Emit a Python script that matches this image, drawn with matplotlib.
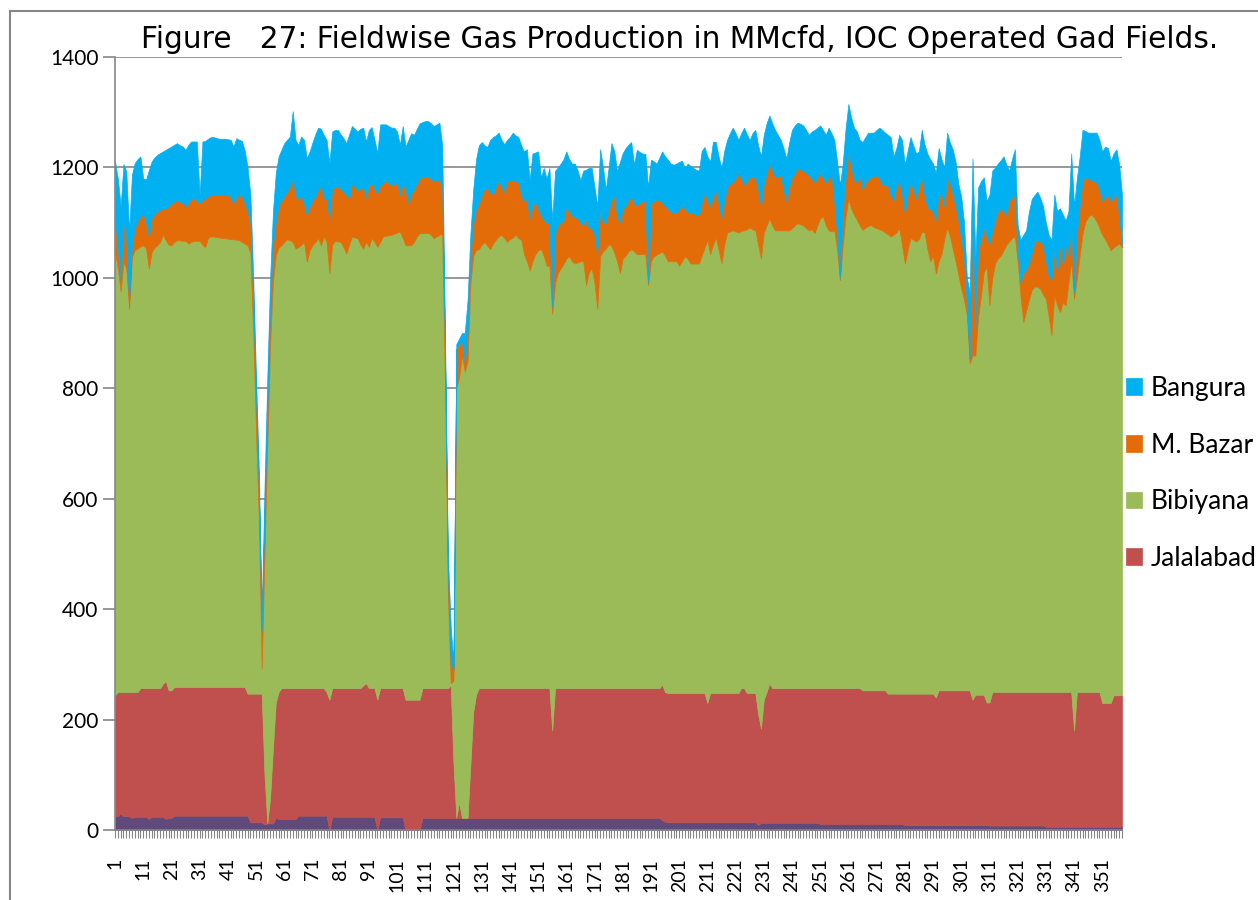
import matplotlib
matplotlib.use("Agg")
import matplotlib.pyplot as plt
import numpy as np
from matplotlib.patches import Rectangle

plt.rcParams['font.family'] = ['Lato', 'DejaVu Sans']

# daily production, MMcfd, days 1..358
days = np.arange(1, 359)

other = [
    25, 25, 30, 25, 25, 25, 22, 24, 24, 24,
    24, 24, 20, 24, 24, 24, 24, 24, 20, 22,
    22, 26, 26, 26, 26, 26, 26, 26, 26, 26,
    26, 26, 26, 26, 26, 26, 26, 26, 26, 26,
    26, 26, 26, 26, 26, 26, 26, 26, 14, 14,
    14, 14, 14, 10, 12, 12, 12, 22, 20, 20,
    20, 20, 20, 20, 20, 26, 26, 26, 26, 26,
    26, 26, 26, 26, 26, 26, 0, 24, 24, 24,
    24, 24, 24, 24, 24, 24, 24, 24, 24, 24,
    24, 24, 23, 0, 23, 23, 23, 23, 23, 23,
    23, 23, 23, 0, 0, 0, 0, 0, 0, 22,
    22, 22, 22, 22, 22, 22, 22, 22, 22, 22,
    22, 22, 22, 22, 22, 22, 22, 22, 22, 22,
    22, 22, 22, 22, 22, 22, 22, 22, 22, 22,
    22, 22, 22, 22, 22, 22, 22, 22, 22, 22,
    22, 22, 22, 22, 22, 22, 22, 22, 22, 22,
    22, 22, 22, 22, 22, 22, 22, 22, 22, 22,
    22, 22, 22, 22, 22, 22, 22, 22, 22, 22,
    22, 22, 22, 22, 22, 22, 22, 22, 22, 22,
    22, 22, 22, 22, 18, 15, 14, 14, 14, 14,
    14, 14, 14, 14, 14, 14, 14, 14, 14, 14,
    14, 14, 14, 14, 14, 14, 14, 14, 14, 14,
    14, 14, 14, 14, 14, 14, 14, 14, 9, 13,
    13, 13, 13, 13, 13, 13, 13, 13, 13, 13,
    13, 13, 13, 13, 13, 13, 13, 13, 13, 13,
    11, 11, 11, 11, 11, 11, 11, 11, 11, 11,
    11, 11, 11, 11, 11, 11, 11, 11, 11, 11,
    11, 11, 11, 11, 11, 11, 11, 11, 11, 11,
    9, 9, 9, 9, 9, 9, 9, 9, 9, 9,
    9, 9, 9, 9, 9, 9, 9, 9, 9, 9,
    9, 9, 9, 9, 9, 9, 9, 9, 9, 9,
    8, 8, 8, 8, 8, 8, 8, 8, 8, 8,
    8, 8, 8, 8, 8, 8, 8, 8, 8, 8,
    6, 6, 6, 6, 6, 6, 6, 6, 6, 6,
    6, 6, 6, 6, 6, 6, 6, 6, 6, 6,
    6, 6, 6, 6, 6, 6, 6, 6,
]

jalalabad = [
    219, 225, 220, 225, 225, 225, 228, 226, 226, 233,
    233, 233, 237, 233, 233, 233, 233, 241, 250, 231,
    231, 233, 233, 233, 233, 233, 233, 233, 233, 233,
    233, 233, 233, 233, 233, 233, 233, 233, 233, 233,
    233, 233, 233, 233, 233, 233, 233, 221, 233, 233,
    233, 233, 233, 90, 0, 48, 138, 209, 230, 237,
    237, 237, 237, 237, 237, 231, 231, 231, 231, 231,
    231, 231, 231, 231, 231, 224, 236, 233, 233, 233,
    233, 233, 233, 233, 233, 233, 233, 233, 238, 242,
    233, 233, 234, 236, 234, 234, 234, 234, 234, 234,
    234, 234, 234, 236, 236, 236, 236, 236, 236, 235,
    235, 235, 235, 235, 235, 235, 235, 235, 235, 240,
    98, 0, 28, 0, 0, 0, 98, 192, 223, 235,
    235, 235, 235, 235, 235, 235, 235, 235, 235, 235,
    235, 235, 235, 235, 235, 235, 235, 235, 235, 235,
    235, 235, 235, 235, 235, 158, 235, 235, 235, 235,
    235, 235, 235, 235, 235, 235, 235, 235, 235, 235,
    235, 235, 235, 235, 235, 235, 235, 235, 235, 235,
    235, 235, 235, 235, 235, 235, 235, 235, 235, 235,
    235, 235, 235, 235, 245, 235, 234, 234, 234, 234,
    234, 234, 234, 234, 234, 234, 234, 234, 234, 234,
    216, 234, 234, 234, 234, 234, 234, 234, 234, 234,
    234, 234, 243, 243, 234, 234, 234, 234, 201, 171,
    223, 237, 253, 244, 244, 244, 244, 244, 244, 244,
    244, 244, 244, 244, 244, 244, 244, 244, 244, 244,
    246, 246, 246, 246, 246, 246, 246, 246, 246, 246,
    246, 246, 246, 246, 246, 242, 242, 242, 242, 242,
    242, 242, 242, 242, 236, 236, 236, 236, 236, 236,
    238, 238, 238, 238, 238, 238, 238, 238, 238, 238,
    238, 231, 244, 244, 244, 244, 244, 244, 244, 244,
    244, 244, 244, 244, 227, 236, 236, 236, 236, 222,
    223, 242, 242, 242, 242, 242, 242, 242, 242, 242,
    242, 242, 242, 242, 242, 242, 242, 242, 242, 242,
    244, 244, 244, 244, 244, 244, 244, 244, 244, 244,
    174, 244, 244, 244, 244, 244, 244, 244, 244, 244,
    224, 224, 224, 224, 238, 238, 238, 238,
]

bibiyana = [
    803, 767, 725, 779, 767, 694, 788, 800, 803, 800,
    802, 796, 760, 790, 798, 802, 808, 813, 798, 807,
    806, 806, 809, 809, 808, 808, 803, 806, 808, 808,
    808, 801, 797, 814, 816, 816, 815, 814, 813, 813,
    812, 811, 811, 810, 809, 806, 803, 812, 798, 653,
    473, 313, 45, 400, 688, 820, 843, 810, 805, 802,
    808, 813, 811, 808, 796, 799, 803, 808, 772, 793,
    802, 808, 815, 802, 818, 815, 772, 803, 810, 809,
    808, 798, 787, 803, 818, 816, 815, 803, 791, 799,
    799, 815, 808, 820, 808, 818, 819, 820, 821, 823,
    825, 827, 815, 823, 823, 823, 829, 839, 845, 824,
    824, 824, 821, 815, 818, 821, 823, 543, 173, 4,
    150, 778, 770, 838, 808, 828, 870, 826, 805, 795,
    803, 808, 801, 795, 805, 812, 818, 821, 815, 808,
    813, 816, 821, 815, 812, 786, 773, 756, 773, 786,
    793, 795, 783, 765, 765, 755, 733, 752, 760, 768,
    778, 782, 773, 769, 771, 773, 773, 730, 753, 760,
    733, 687, 783, 791, 796, 804, 801, 788, 773, 752,
    778, 783, 791, 795, 791, 786, 786, 786, 786, 730,
    773, 782, 785, 788, 785, 790, 782, 782, 782, 782,
    774, 782, 791, 787, 778, 778, 778, 778, 792, 807,
    839, 795, 812, 825, 802, 778, 812, 834, 836, 838,
    836, 834, 828, 829, 840, 843, 840, 838, 850, 851,
    846, 845, 842, 838, 829, 829, 829, 829, 829, 829,
    833, 838, 842, 840, 838, 833, 829, 831, 824, 838,
    851, 854, 838, 829, 827, 829, 793, 739, 803, 853,
    887, 868, 857, 848, 838, 834, 838, 841, 843, 839,
    837, 835, 833, 829, 832, 828, 831, 835, 843, 813,
    779, 803, 825, 822, 819, 823, 837, 835, 805, 783,
    793, 768, 777, 790, 817, 838, 822, 799, 777, 752,
    727, 707, 679, 592, 624, 614, 685, 723, 765, 789,
    719, 750, 776, 785, 790, 800, 810, 816, 822, 825,
    780, 718, 670, 690, 710, 728, 734, 734, 730, 720,
    712, 680, 646, 718, 700, 688, 706, 700, 740, 779,
    782, 750, 791, 830, 852, 860, 865, 860, 852, 840,
    848, 840, 830, 820, 811, 815, 818, 811,
]

m_bazar = [
    61, 36, 20, 71, 55, 12, 21, 40, 49, 53,
    58, 47, 58, 61, 60, 61, 58, 47, 58, 70,
    76, 73, 73, 70, 68, 62, 74, 77, 77, 73,
    68, 80, 88, 75, 75, 77, 77, 77, 78, 78,
    79, 75, 65, 76, 84, 82, 73, 61, 55, 60,
    60, 55, 68, 70, 60, 70, 67, 61, 75, 81,
    83, 85, 97, 113, 97, 85, 90, 70, 85, 79,
    81, 82, 86, 109, 69, 79, 100, 102, 97, 99,
    95, 101, 106, 84, 97, 92, 87, 102, 111, 80,
    112, 100, 95, 97, 103, 97, 100, 95, 90, 90,
    90, 66, 100, 101, 76, 94, 95, 95, 100, 101,
    102, 102, 102, 103, 102, 101, 80, 60, 40, 34,
    20, 70, 60, 25, 15, 50, 50, 60, 75, 83,
    90, 95, 106, 103, 89, 96, 102, 87, 83, 112,
    107, 104, 97, 101, 81, 96, 113, 95, 100, 96,
    75, 61, 65, 77, 77, 13, 90, 86, 83, 79,
    95, 81, 83, 84, 80, 70, 65, 119, 80, 73,
    88, 99, 85, 52, 47, 60, 82, 106, 80, 91,
    90, 90, 92, 95, 87, 87, 92, 96, 96, 5,
    104, 99, 101, 95, 87, 90, 95, 90, 88, 87,
    103, 100, 86, 85, 91, 91, 89, 87, 95, 101,
    71, 87, 85, 87, 85, 82, 80, 82, 86, 87,
    96, 108, 95, 82, 87, 91, 94, 96, 100, 95,
    88, 95, 99, 100, 96, 98, 100, 74, 53, 79,
    92, 95, 100, 99, 99, 100, 100, 92, 92, 87,
    82, 69, 78, 94, 102, 53, 30, 4, 61, 70,
    85, 75, 63, 68, 90, 73, 82, 84, 86, 92,
    96, 92, 84, 86, 89, 75, 61, 83, 87, 90,
    91, 100, 101, 91, 77, 95, 98, 68, 76, 94,
    81, 96, 120, 107, 60, 91, 95, 99, 100, 99,
    90, 75, 18, 8, 253, 46, 122, 102, 81, 55,
    111, 85, 78, 85, 86, 70, 53, 73, 73, 76,
    20, 23, 89, 75, 66, 67, 81, 85, 85, 91,
    68, 75, 100, 84, 59, 123, 66, 110, 50, 67,
    12, 78, 89, 95, 80, 70, 62, 65, 71, 70,
    61, 75, 91, 89, 90, 92, 51, 5,
]

bangura = [
    103, 127, 135, 106, 121, 128, 128, 118, 113, 110,
    63, 78, 120, 103, 103, 103, 103, 104, 106, 105,
    103, 103, 103, 102, 103, 103, 105, 105, 103, 107,
    15, 107, 104, 104, 105, 103, 102, 102, 102, 102,
    101, 105, 103, 108, 98, 101, 95, 80, 50, 40,
    40, 35, 35, 50, 60, 50, 60, 88, 90, 92,
    96, 95, 91, 124, 100, 100, 106, 115, 103, 100,
    105, 113, 114, 102, 115, 106, 100, 103, 104, 103,
    100, 97, 94, 116, 103, 105, 106, 108, 108, 102,
    100, 101, 90, 73, 110, 106, 102, 103, 104, 102,
    93, 91, 103, 78, 115, 109, 99, 100, 99, 100,
    101, 101, 100, 100, 101, 102, 80, 40, 30, 70,
    10, 10, 10, 15, 55, 60, 40, 60, 90, 105,
    96, 80, 73, 95, 104, 93, 86, 85, 87, 73,
    78, 86, 83, 82, 90, 90, 90, 69, 95, 88,
    104, 69, 94, 81, 100, 156, 114, 105, 107, 111,
    99, 95, 94, 97, 87, 77, 99, 90, 109, 109,
    86, 87, 108, 100, 60, 79, 104, 79, 83, 110,
    101, 105, 101, 99, 70, 102, 93, 86, 86, 172,
    80, 73, 64, 78, 94, 90, 89, 87, 87, 90,
    85, 82, 74, 87, 86, 82, 81, 81, 95, 81,
    80, 81, 102, 86, 85, 91, 90, 86, 92, 99,
    82, 60, 82, 104, 85, 68, 80, 86, 80, 90,
    89, 90, 87, 85, 86, 75, 64, 75, 77, 80,
    86, 86, 82, 83, 82, 78, 73, 85, 95, 90,
    86, 88, 86, 92, 76, 111, 130, 168, 86, 90,
    86, 90, 95, 92, 65, 86, 82, 85, 81, 79,
    82, 92, 98, 95, 91, 105, 81, 70, 82, 100,
    88, 80, 82, 80, 82, 64, 86, 92, 97, 91,
    86, 86, 85, 65, 70, 81, 75, 82, 80, 66,
    77, 65, 50, 121, 103, 130, 112, 105, 91, 64,
    89, 109, 96, 87, 87, 100, 92, 55, 70, 82,
    46, 78, 69, 71, 94, 98, 85, 87, 80, 69,
    70, 73, 73, 99, 112, 65, 93, 44, 80, 129,
    156, 102, 90, 93, 84, 83, 86, 88, 90, 90,
    90, 93, 84, 73, 80, 82, 92, 90,
]

names = ['Jalalabad', 'Bibiyana', 'M. Bazar', 'Bangura']
colors = ['#604A7B', '#C0504D', '#9BBB59', '#E36C09', '#00B0F0']
tick_days = list(range(1, 352, 10))

W, H = 1258, 900
fig = plt.figure(figsize=(W / 100, H / 100), dpi=100)
ax = fig.add_axes([115 / W, 1 - 830 / H, (1122 - 115) / W, (830 - 57) / H])

polys = ax.stackplot(days, other, jalalabad, bibiyana, m_bazar, bangura,
                     colors=colors)
for p in polys:
    p.set_edgecolor(p.get_facecolor())
    p.set_linewidth(0.5)

ax.set_xlim(1, 358)
ax.set_ylim(0, 1400)
ax.set_yticks(range(0, 1401, 200))
ax.yaxis.grid(True, color='#868686', lw=1.2)
ax.set_axisbelow(True)

ax.set_xticks(days, minor=True)
ax.set_xticks(tick_days)
ax.set_xticklabels([str(d) for d in tick_days], rotation=90, fontsize=14)
ax.tick_params(axis='x', which='both', length=6, width=0.8, color='#868686')
ax.tick_params(axis='x', which='major', pad=14)
ax.tick_params(axis='y', length=9, width=1.2, color='#868686', labelsize=15, pad=3)

for s in ['top', 'right']:
    ax.spines[s].set_visible(False)
for s in ['left', 'bottom']:
    ax.spines[s].set_color('#868686')
    ax.spines[s].set_linewidth(1.2)

fig.text(680 / W, 1 - 40 / H,
         'Figure   27: Fieldwise Gas Production in MMcfd, IOC Operated Gad Fields.',
         ha='center', va='center', fontsize=21.3, family='DejaVu Sans')

handles = polys[1:][::-1]
fig.legend(handles, names[::-1], loc='upper left',
           bbox_to_anchor=(1126 / W, 1 - 376 / H), frameon=False,
           fontsize=19, handlelength=0.6, handleheight=0.6,
           handletextpad=0.35, labelspacing=1.2, borderpad=0, borderaxespad=0)

# chart area border
fig.patches.append(Rectangle((10 / W, -0.05), 1.2, 1.05 - 11 / H,
                             transform=fig.transFigure, fill=False,
                             edgecolor='#868686', lw=1.5))

fig.savefig('out.png', dpi=100)
